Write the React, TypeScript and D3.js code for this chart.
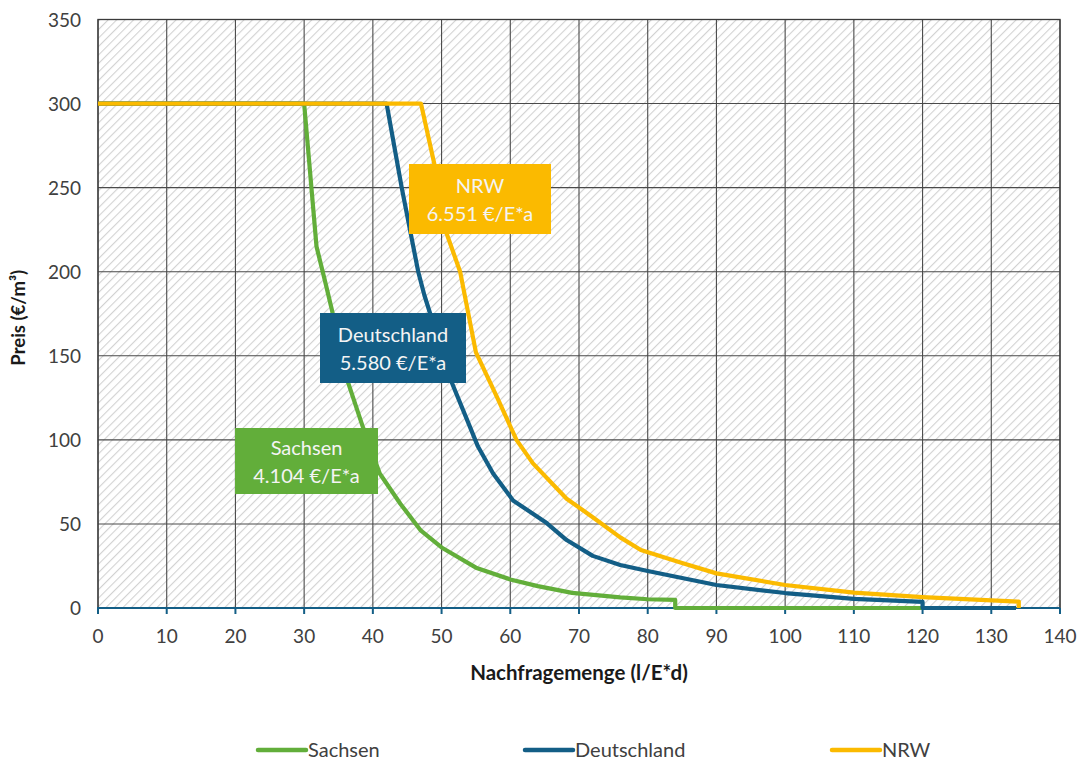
import React from "react";
import * as d3 from "d3";

const xTicks = [0, 10, 20, 30, 40, 50, 60, 70, 80, 90, 100, 110, 120, 130, 140];
const yTicks = [0, 50, 100, 150, 200, 250, 300, 350];

const sachsenX = [0, 30, 31.8, 33, 34, 36.4, 38.6, 41, 44, 47, 50, 55, 60, 64, 69, 76, 80, 84, 84, 120];
const sachsenY = [300, 300, 215, 195, 178, 134, 107, 80, 62, 46, 36, 24, 17, 13, 9, 6.3, 5.2, 4.8, 0, 0];

const deutschX = [0, 42, 44.2, 46.6, 47.5, 51.5, 54.1, 55.3, 57.5, 60.4, 65.3, 68.2, 72, 76, 80, 90, 100, 110, 120, 120, 133.6];
const deutschY = [300, 300, 250, 200, 186, 134, 108, 96, 80, 64, 50.5, 40.4, 31, 25.6, 22, 13.7, 8.9, 5.4, 3.6, 0, 0];

const nrwX = [0, 47, 48.9, 50.8, 52.7, 53.8, 55, 58, 60.9, 63.3, 68.2, 72, 76, 79, 85, 90, 100, 110, 120, 134, 134];
const nrwY = [300, 300, 265, 222, 200, 177, 152, 126, 100, 86, 65, 54, 42, 34.5, 26.7, 20.6, 13.7, 9.1, 6.5, 3.8, 0];

const seriesNames = ["Sachsen", "Deutschland", "NRW"];
const seriesColors = ["#62AE3A", "#135E86", "#FBBA00"];
const labelLines = [
  ["Sachsen", "4.104 €/E*a"],
  ["Deutschland", "5.580 €/E*a"],
  ["NRW", "6.551 €/E*a"],
];

const W = 1080;
const H = 760;
const L = 98;
const R = 1060;
const T = 19.5;
const B = 608;
const FONT = "Lato, 'Noto Sans', sans-serif";

export default function App() {
  const x = d3.scaleLinear().domain([0, 140]).range([L, R]);
  const y = d3.scaleLinear().domain([0, 350]).range([B, T]);
  const line = d3
    .line<[number, number]>()
    .x((d) => x(d[0]))
    .y((d) => y(d[1]));

  const series = [
    sachsenX.map((v, i) => [v, sachsenY[i]] as [number, number]),
    deutschX.map((v, i) => [v, deutschY[i]] as [number, number]),
    nrwX.map((v, i) => [v, nrwY[i]] as [number, number]),
  ];

  const boxes = [
    { x: 235, y: 428, w: 143, h: 66 },
    { x: 320, y: 313, w: 146, h: 70 },
    { x: 409, y: 164, w: 142, h: 70 },
  ];

  const legendItems = [
    { x0: 258, x1: 306 },
    { x0: 525, x1: 573 },
    { x0: 832, x1: 880 },
  ];

  return (
    <svg
      width={W}
      height={H}
      style={{ position: "absolute", left: 0, top: 0, background: "#fff" }}
      fontFamily={FONT}
    >
      <defs>
        <pattern
          id="hatch"
          patternUnits="userSpaceOnUse"
          width={6}
          height={6}
          patternTransform="rotate(45)"
        >
          <rect width={6} height={6} fill="#ffffff" />
          <line x1={0} y1={0} x2={0} y2={6} stroke="#d2d2d2" strokeWidth={2.2} />
        </pattern>
      </defs>
      <rect x={L} y={T} width={R - L} height={B - T} fill="url(#hatch)" />
      {xTicks.map((t) => (
        <line key={"gx" + t} x1={x(t)} x2={x(t)} y1={T} y2={B} stroke="#4a4a4a" strokeWidth={1.1} />
      ))}
      {yTicks.map((t) => (
        <line key={"gy" + t} x1={L} x2={R} y1={y(t)} y2={y(t)} stroke="#4a4a4a" strokeWidth={1.1} />
      ))}
      <rect x={L} y={T} width={R - L} height={B - T} fill="none" stroke="#3a3a3a" strokeWidth={1.3} />
      <line x1={L - 1} x2={R} y1={B} y2={B} stroke="#135E86" strokeWidth={2} />
      {xTicks.map((t) => (
        <line key={"tx" + t} x1={x(t)} x2={x(t)} y1={B} y2={B + 6} stroke="#135E86" strokeWidth={2} />
      ))}
      {xTicks.map((t) => (
        <text key={"lx" + t} x={x(t)} y={643} textAnchor="middle" fontSize={19} fill="#404040">
          {t}
        </text>
      ))}
      {yTicks.map((t) => (
        <text key={"ly" + t} x={81} y={y(t) + 7} textAnchor="end" fontSize={19} fill="#404040">
          {t}
        </text>
      ))}
      {series.map((s, i) => (
        <path
          key={seriesNames[i]}
          d={line(s) || ""}
          fill="none"
          stroke={seriesColors[i]}
          strokeWidth={4.2}
          strokeLinejoin="round"
        />
      ))}
      {boxes.map((b, i) => (
        <g key={"box" + i}>
          <rect x={b.x} y={b.y} width={b.w} height={b.h} fill={seriesColors[i]} />
          <text x={b.x + b.w / 2} y={b.y + b.h / 2 - 6} textAnchor="middle" fontSize={20} fill="#f4f4f4">
            {labelLines[i][0]}
          </text>
          <text x={b.x + b.w / 2} y={b.y + b.h / 2 + 22} textAnchor="middle" fontSize={20} fill="#f4f4f4">
            {labelLines[i][1]}
          </text>
        </g>
      ))}
      <text x={(L + R) / 2} y={680} textAnchor="middle" fontSize={20.5} fontWeight="bold" fill="#1a1a1a">
        Nachfragemenge (l/E*d)
      </text>
      <text
        transform={`translate(25, ${(T + B) / 2 + 4}) rotate(-90)`}
        textAnchor="middle"
        fontSize={18.5}
        fontWeight="bold"
        fill="#1a1a1a"
      >
        Preis (€/m³)
      </text>
      {legendItems.map((li, i) => (
        <g key={"lg" + i}>
          <line x1={li.x0} x2={li.x1} y1={750} y2={750} stroke={seriesColors[i]} strokeWidth={4.5} strokeLinecap="round" />
          <text x={li.x1 + 2} y={757} fontSize={20} fill="#404040">
            {seriesNames[i]}
          </text>
        </g>
      ))}
    </svg>
  );
}
